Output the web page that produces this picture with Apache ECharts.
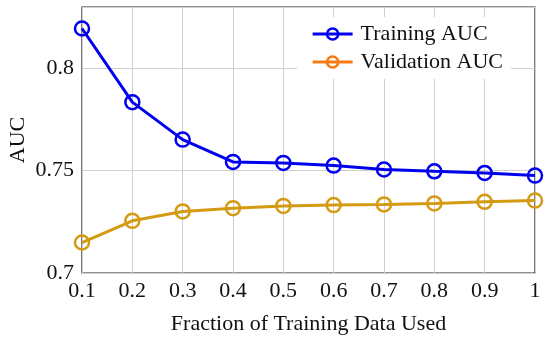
<!DOCTYPE html>
<html>
<head>
<meta charset="utf-8">
<script src="https://cdn.jsdelivr.net/npm/echarts@6/dist/echarts.min.js"></script>
<style>html,body{margin:0;padding:0;background:#fff;}#c{width:550px;height:339px;}</style>
</head>
<body>
<div id="c"></div>
<script>
const categories = ['0.1','0.2','0.3','0.4','0.5','0.6','0.7','0.8','0.9','1'];
const trainingAUC = [0.8195, 0.7835, 0.7652, 0.7543, 0.7538, 0.7525, 0.7506, 0.7497, 0.7489, 0.7476];
const validationAUC = [0.7149, 0.7255, 0.7301, 0.7317, 0.7328, 0.7332, 0.7335, 0.7340, 0.7348, 0.7354];
const FONT = 'Liberation Serif';
const FS = 22;
const chart = echarts.init(document.getElementById('c'));
chart.setOption({
  animation: false,
  grid: {left: 82, right: 15, top: 7, bottom: 66, containLabel: false, outerBoundsMode: 'none',
         show: true, borderColor: '#222', borderWidth: 1.2, backgroundColor: 'transparent'},
  legend: {
    right: 39, top: 17, orient: 'vertical', itemGap: 6, itemWidth: 40, itemHeight: 14,
    backgroundColor: '#fff', padding: [6, 8, 6, 14],
    textStyle: {fontFamily: FONT, fontSize: FS, color: '#111', lineHeight: 22, padding: [0, 0, 0, 3]},
    data: [
      {name: 'Training AUC', itemStyle: {borderColor: '#0000ee', color: 'transparent', borderWidth: 2.5}, lineStyle: {color: '#0000ee', width: 3}},
      {name: 'Validation AUC', itemStyle: {borderColor: '#f57a12', color: 'transparent', borderWidth: 2.5}, lineStyle: {color: '#f57a12', width: 3}}
    ]
  },
  xAxis: {
    type: 'category', data: categories, boundaryGap: false,
    name: 'Fraction of Training Data Used', nameLocation: 'middle', nameGap: 40, nameMoveOverlap: false,
    nameTextStyle: {fontFamily: FONT, fontSize: FS, color: '#111'},
    axisLine: {show: false}, axisTick: {show: false},
    axisLabel: {fontFamily: FONT, fontSize: FS, color: '#111', margin: 7},
    splitLine: {show: true, lineStyle: {color: '#cfcfcf', width: 1}}
  },
  yAxis: {
    type: 'value', min: 0.7, max: 0.83, interval: 0.05,
    name: 'AUC', nameLocation: 'middle', nameGap: 53, nameMoveOverlap: false,
    nameTextStyle: {fontFamily: FONT, fontSize: FS, color: '#111'},
    axisLine: {show: false}, axisTick: {show: false},
    axisLabel: {fontFamily: FONT, fontSize: FS, color: '#111', margin: 8, showMaxLabel: false,
      formatter: v => String(Math.round(v * 100) / 100)},
    splitLine: {show: true, lineStyle: {color: '#cfcfcf', width: 1}}
  },
  series: [
    {name: 'Training AUC', type: 'line', data: trainingAUC, symbol: 'circle', symbolSize: 14,
     lineStyle: {color: '#0000ee', width: 3},
     itemStyle: {color: 'transparent', borderColor: '#0000ee', borderWidth: 2.5}},
    {name: 'Validation AUC', type: 'line', data: validationAUC, symbol: 'circle', symbolSize: 14,
     lineStyle: {color: '#d49a12', width: 3},
     itemStyle: {color: 'transparent', borderColor: '#d49a12', borderWidth: 2.5}}
  ]
});
</script>
</body>
</html>
